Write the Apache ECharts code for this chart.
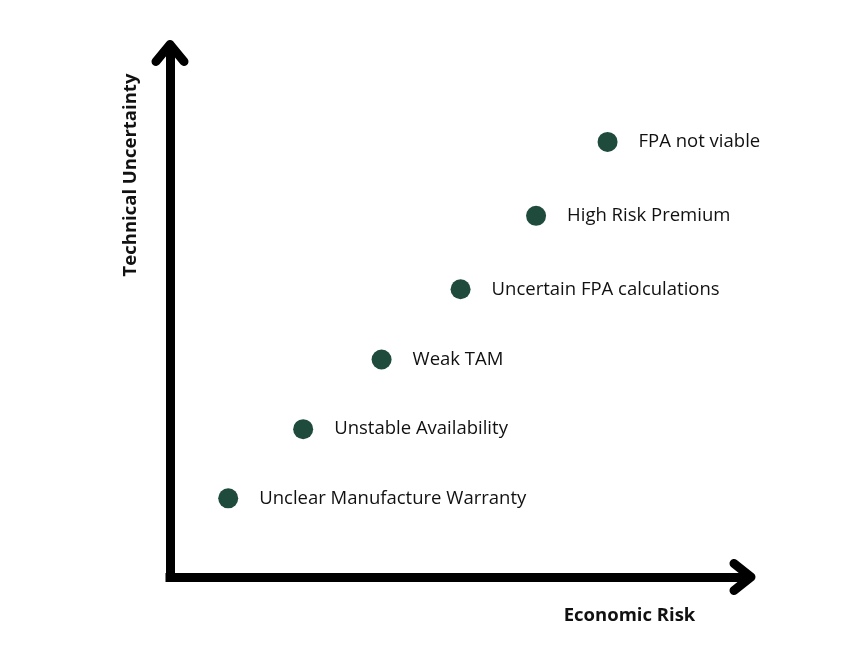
<!DOCTYPE html>
<html>
<head>
<meta charset="utf-8">
<script src="https://cdn.jsdelivr.net/npm/echarts@6/dist/echarts.min.js"></script>
<style>
html,body{margin:0;padding:0;background:#fff;}
#chart{width:848px;height:659px;}
</style>
</head>
<body>
<div id="chart"></div>
<script>
// Data
var itemNames = ['Unclear Manufacture Warranty', 'Unstable Availability', 'Weak TAM', 'Uncertain FPA calculations', 'High Risk Premium', 'FPA not viable'];
var economicRisk = [10.1, 23.1, 36.7, 50.4, 63.5, 75.9];
var technicalUncertainty = [14.9, 28.0, 41.2, 54.5, 68.4, 82.4];
var xTitle = 'Economic Risk';
var yTitle = 'Technical Uncertainty';

var points = itemNames.map(function (n, i) {
  return { name: n, value: [economicRisk[i], technicalUncertainty[i]] };
});

var chart = echarts.init(document.getElementById('chart'), null, { renderer: 'canvas' });
var axisLineStyle = { color: '#000', width: 9, cap: 'square' };
chart.setOption({
  animation: false,
  backgroundColor: '#fff',
  grid: { left: 170, right: 101.5, top: 49, bottom: 82, containLabel: false },
  xAxis: {
    type: 'value', min: 0, max: 100,
    axisLine: { show: true, onZero: false, lineStyle: axisLineStyle },
    axisTick: { show: false }, axisLabel: { show: false }, splitLine: { show: false }
  },
  yAxis: {
    type: 'value', min: 0, max: 100,
    axisLine: { show: true, onZero: false, lineStyle: axisLineStyle },
    axisTick: { show: false }, axisLabel: { show: false }, splitLine: { show: false }
  },
  series: [{
    type: 'scatter',
    data: points,
    symbolSize: 20,
    itemStyle: { color: '#1f4b3c', opacity: 1 },
    emphasis: { disabled: true },
    label: {
      show: true,
      position: 'right',
      distance: 21,
      formatter: '{b}',
      fontFamily: 'Open Sans',
      fontSize: 18.5,
      color: '#111',
      opacity: 1
    }
  }]
});

var xEnd = chart.convertToPixel({ gridIndex: 0 }, [100, 0]);
var yEnd = chart.convertToPixel({ gridIndex: 0 }, [0, 100]);
var xApex = [xEnd[0] + 4.5, xEnd[1]];
var yApex = [yEnd[0], yEnd[1] - 4.5];
var headStyle = { stroke: '#000', lineWidth: 9, lineCap: 'round', lineJoin: 'round', fill: null };

chart.setOption({
  graphic: [
    { type: 'polyline', z: 100, shape: { points: [[xApex[0] - 17, xApex[1] - 13.5], xApex, [xApex[0] - 17, xApex[1] + 13.5]] }, style: headStyle },
    { type: 'polyline', z: 100, shape: { points: [[yApex[0] - 14, yApex[1] + 17], yApex, [yApex[0] + 14, yApex[1] + 17]] }, style: headStyle },
    { type: 'text', x: 629.5, y: 616, style: { text: xTitle, fontFamily: 'Open Sans', fontWeight: 'bold', fontSize: 18.5, fill: '#111', align: 'center', verticalAlign: 'middle' } },
    { type: 'text', x: 131, y: 175, rotation: Math.PI / 2, style: { text: yTitle, fontFamily: 'Open Sans', fontWeight: 'bold', fontSize: 18.5, fill: '#111', align: 'center', verticalAlign: 'middle' } }
  ]
});
</script>
</body>
</html>
